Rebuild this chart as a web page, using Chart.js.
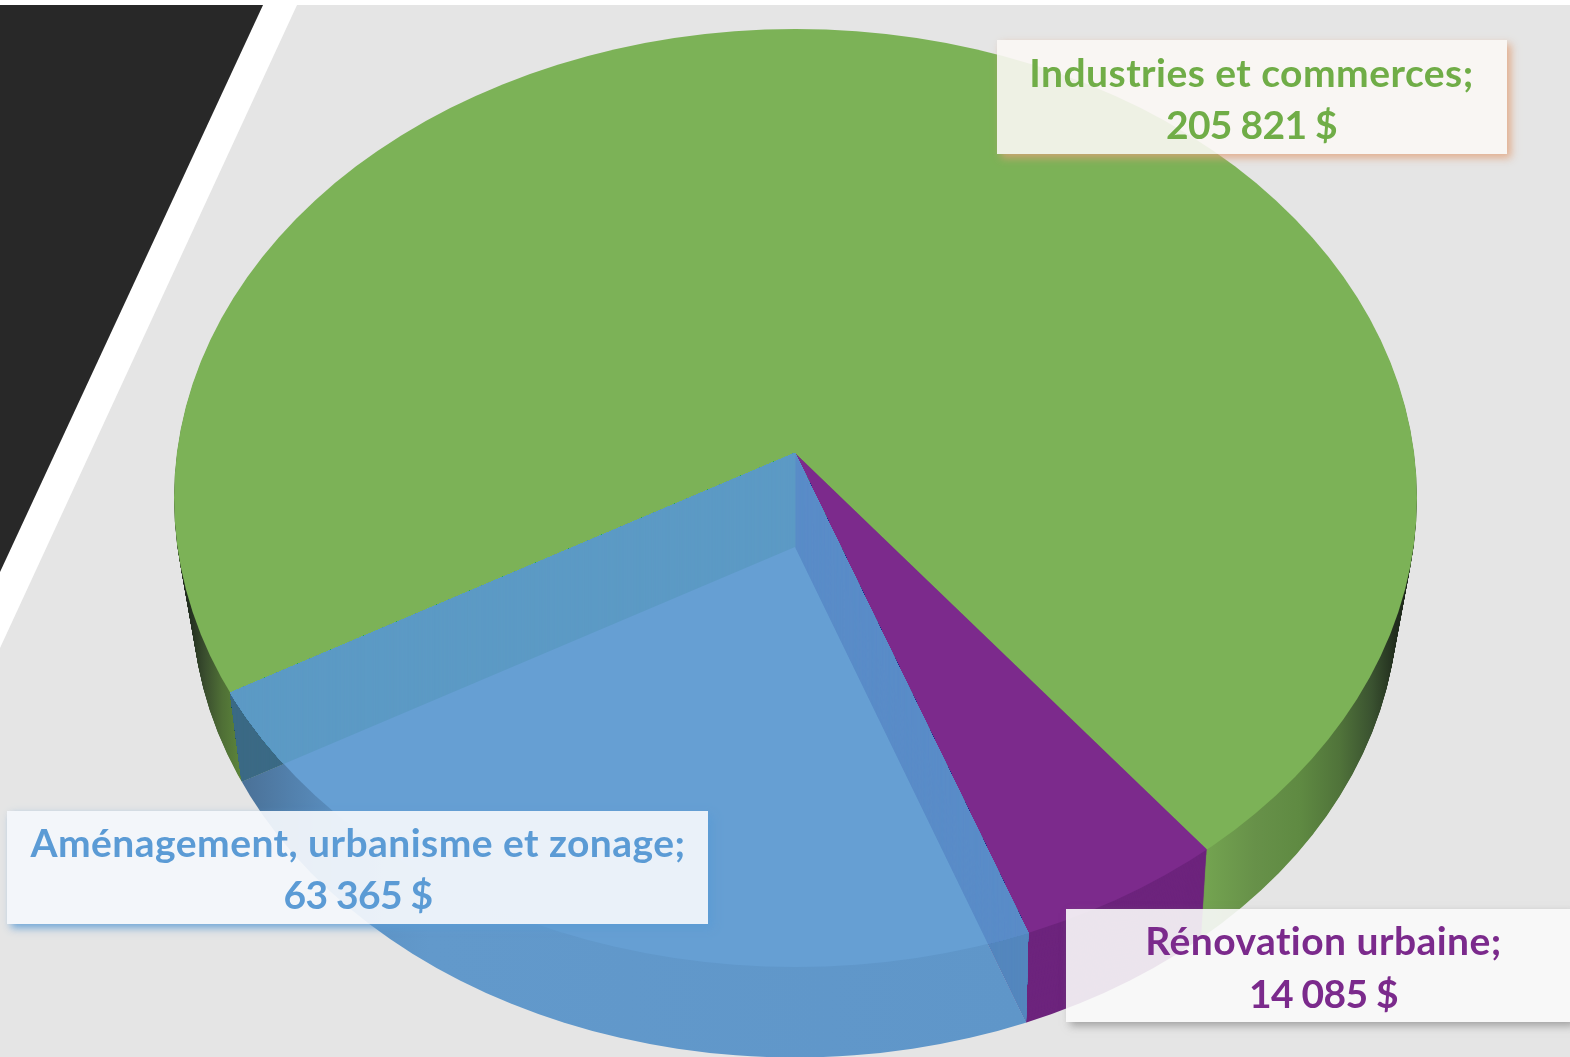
<!DOCTYPE html>
<html lang="fr"><head><meta charset="utf-8">
<style>html,body{margin:0;padding:0;background:#e5e5e5;overflow:hidden}canvas{display:block}</style>
<script src="https://cdn.jsdelivr.net/npm/chart.js@4/dist/chart.umd.min.js"></script>
</head><body>
<canvas id="c" width="1570" height="1057"></canvas>
<script>
// Data
const categories = ['Industries et commerces', 'Rénovation urbaine', 'Aménagement, urbanisme et zonage'];
const amounts = [205821, 14085, 63365];
const topColors = ['#7CB257', '#7C2A8C', '#669FD3'];
const labelColors = ['#70AD47', '#7B2A8C', '#5B9BD5'];

// Projection of the pie (fake 3D)
const APEX = {x: 795, y: 453}, DEPTH = 94, SHRINK = 0.025, SX = 2.2, SY = 1.65;
const E0 = {x: 795.5, y: 498, rx: 621.5, ry: 469}, E1 = {x: 795, y: 600, rx: 603, ry: 457.5};
const boxes = [
  {x: 997, y: 40, w: 510, h: 114, fill: 'rgba(251,247,244,0.9)', shadow: 'rgba(226,160,120,0.8)', tx: 1251.5, b1: 87, b2: 139},
  {x: 1066, y: 909, w: 505, h: 113, fill: 'rgba(249,249,249,0.9)', shadow: 'rgba(120,120,120,0.6)', tx: 1323.5, b1: 955, b2: 1008},
  {x: 7, y: 811, w: 701, h: 113, fill: 'rgba(244,248,252,0.93)', shadow: 'rgba(91,155,213,0.85)', tx: 358, b1: 857, b2: 909}
];
const money = v => String(v).replace(/\B(?=(\d{3})+$)/g, ' ') + ' $';

function ellipseAt(t) {
  return {x: E0.x + (E1.x - E0.x) * t, y: E0.y + (E1.y - E0.y) * t, rx: E0.rx + (E1.rx - E0.rx) * t, ry: E0.ry + (E1.ry - E0.ry) * t};
}
function setLayer(ctx, arc, t) {
  const f = 1 - SHRINK * t;
  ctx.translate(APEX.x, APEX.y + DEPTH * t);
  ctx.scale(f * SX, f * SY);
  ctx.translate(-arc.x, -arc.y);
}
function clipEllipse(ctx, t) {
  const e = ellipseAt(t);
  ctx.beginPath();
  ctx.ellipse(e.x, e.y, e.rx, e.ry, 0, 0, Math.PI * 2);
  ctx.clip();
}
// where a slice boundary meets the rim at depth t
function rimPoint(angle, t) {
  const e = ellipseAt(t), ax = APEX.x, ay = APEX.y + DEPTH * t;
  const dx = Math.cos(angle) * SX, dy = Math.sin(angle) * SY;
  const ux = (ax - e.x) / e.rx, uy = (ay - e.y) / e.ry, vx = dx / e.rx, vy = dy / e.ry;
  const A = vx * vx + vy * vy, B = 2 * (ux * vx + uy * vy), C = ux * ux + uy * uy - 1;
  const s = (-B + Math.sqrt(B * B - 4 * A * C)) / (2 * A);
  return {x: ax + dx * s, y: ay + dy * s};
}
// area of the blue slice through which the inner walls are seen
function clipInner(ctx, arc) {
  const r0 = rimPoint(arc.startAngle, 0), r1 = rimPoint(arc.startAngle, 1);
  const l0 = rimPoint(arc.endAngle, 0), l1 = rimPoint(arc.endAngle, 1);
  ctx.beginPath();
  ctx.moveTo(APEX.x, APEX.y);
  ctx.lineTo(l0.x, l0.y);
  ctx.lineTo(l1.x, l1.y);
  ctx.lineTo(APEX.x, APEX.y + 1500);
  ctx.lineTo(r1.x, r1.y);
  ctx.lineTo(r0.x, r0.y);
  ctx.closePath();
  ctx.clip();
}
function paint(ctx, arc, t, color) {
  ctx.save();
  clipEllipse(ctx, t);
  setLayer(ctx, arc, t);
  const keep = arc.options;
  let fill = color;
  if (Array.isArray(color)) {
    const f = 1 - SHRINK * t;
    const a = color[0][0], b = color[color.length - 1][0];
    const g = ctx.createLinearGradient(arc.x + (a - APEX.x) / (f * SX), 0, arc.x + (b - APEX.x) / (f * SX), 0);
    color.forEach(s => g.addColorStop((s[0] - a) / (b - a), s[1]));
    fill = g;
  }
  arc.options = Object.assign({}, keep, {backgroundColor: fill, borderWidth: 0});
  arc.draw(ctx);
  arc.options = keep;
  ctx.restore();
}
function stack(ctx, arc, color) {
  for (let i = DEPTH; i >= 1; i--) paint(ctx, arc, i / DEPTH, color);
}
const greenWall = [[175,'#1B241A'],[190,'#232F20'],[205,'#3A4E2E'],[222,'#4F6F36'],[245,'#5F8A3C'],[1207,'#73A350'],[1255,'#679149'],[1300,'#5F8A42'],[1340,'#50733A'],[1372,'#3A5230'],[1395,'#222E1E'],[1415,'#1A2218']];
const blueBase = [[240,'#4A7096'],[290,'#5280AC'],[350,'#5D92C4'],[430,'#6299CB'],[1025,'#5F96C9']];

const pie3d = {
  id: 'pie3d',
  beforeDraw(chart) {
    const c = chart.ctx;
    c.save();
    c.fillStyle = '#E5E5E5'; c.fillRect(0, 0, 1570, 1057);
    c.fillStyle = '#FFFFFF'; c.fillRect(0, 0, 1570, 5);
    c.beginPath(); c.moveTo(263, 5); c.lineTo(297, 5); c.lineTo(0, 648); c.lineTo(0, 572); c.closePath(); c.fill();
    c.fillStyle = '#282828';
    c.beginPath(); c.moveTo(0, 5); c.lineTo(263, 5); c.lineTo(0, 572); c.closePath(); c.fill();
    c.restore();
  },
  beforeDatasetsDraw(chart) {
    const c = chart.ctx;
    const [green, purple, blue] = chart.getDatasetMeta(0).data;
    // outer walls
    stack(c, green, greenWall);
    stack(c, purple, '#6D247D');
    // floor of the blue slice, seen through it
    paint(c, blue, 1, blueBase);
    // inner walls seen through the blue slice, outside its top face
    c.save();
    clipInner(c, blue);
    stack(c, green, '#3B6A85');
    stack(c, purple, '#5487BE');
    c.restore();
    // top faces
    paint(c, green, 0, topColors[0]);
    paint(c, purple, 0, topColors[1]);
    paint(c, blue, 0, topColors[2]);
    // inner walls seen through the blue top face
    c.save();
    clipInner(c, blue);
    clipEllipse(c, 0);
    stack(c, green, '#5C9AC5');
    stack(c, purple, '#5A8CC8');
    c.restore();
    return false;
  },
  afterDraw(chart) {
    const c = chart.ctx;
    boxes.forEach((b, i) => {
      // shadow only outside the box, so it does not tint the translucent fill
      c.save();
      c.beginPath();
      c.rect(0, 0, 1570, 1057);
      c.rect(b.x, b.y, b.w, b.h);
      c.clip('evenodd');
      c.shadowColor = b.shadow; c.shadowBlur = 8; c.shadowOffsetX = 4; c.shadowOffsetY = 4;
      c.fillStyle = '#fff';
      c.fillRect(b.x, b.y, b.w, b.h);
      c.restore();
      c.save();
      c.fillStyle = b.fill;
      c.fillRect(b.x, b.y, b.w, b.h);
      c.fillStyle = labelColors[i];
      c.font = 'bold 39px Lato, "Open Sans", sans-serif';
      c.textAlign = 'center';
      c.textBaseline = 'alphabetic';
      c.letterSpacing = '0.45px';
      c.fillText(categories[i] + ';', b.tx, b.b1);
      c.letterSpacing = '-0.7px';
      c.fillText(money(amounts[i]), b.tx, b.b2);
      c.restore();
    });
  }
};

new Chart(document.getElementById('c').getContext('2d'), {
  type: 'pie',
  data: {labels: categories, datasets: [{data: amounts, backgroundColor: topColors, borderWidth: 0}]},
  options: {
    responsive: false,
    animation: false,
    rotation: -119.5,
    layout: {padding: 0},
    plugins: {legend: {display: false}, tooltip: {enabled: false}, title: {display: false}}
  },
  plugins: [pie3d]
});
</script>
</body></html>
